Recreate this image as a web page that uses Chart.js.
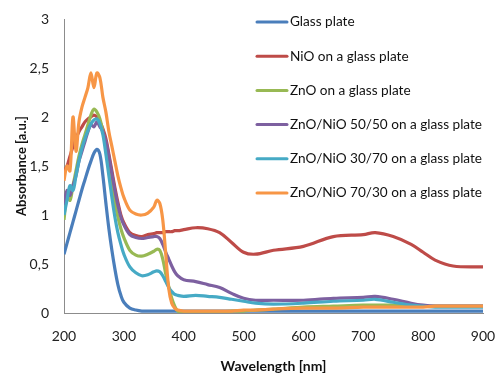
<!DOCTYPE html>
<html>
<head>
<meta charset="utf-8">
<script src="https://cdn.jsdelivr.net/npm/chart.js@4"></script>
<style>
  html, body { margin: 0; padding: 0; background: #fff; }
  #wrap { width: 496px; height: 380px; position: relative; }
</style>
</head>
<body>
<div id="wrap"><canvas id="absChart"></canvas></div>
<script>
// absorbance spectra, values

const wavelength = [200, 205, 210, 215, 220, 225, 230, 235, 240, 245, 250, 255, 260, 265, 270, 275, 280, 285, 290, 295, 300,
    310, 320, 330, 340, 350, 355, 360, 365, 370, 375, 380, 385, 390, 400, 420, 440, 460, 480, 500, 520,
    550, 600, 650, 700, 720, 750, 780, 800, 820, 850, 900];

const seriesLabels = ['Glass plate', 'NiO on a glass plate', 'ZnO on a glass plate',
    'ZnO/NiO 50/50 on a glass plate', 'ZnO/NiO 30/70 on a glass plate', 'ZnO/NiO 70/30 on a glass plate'];

const glassPlate = [0.60, 0.71, 0.82, 0.93, 1.04, 1.15, 1.26, 1.36, 1.46, 1.55, 1.63, 1.67, 1.62, 1.40, 1.12, 0.86, 0.64, 0.45, 0.29, 0.18, 0.11,
    0.05, 0.03, 0.02, 0.02, 0.02, 0.02, 0.02, 0.02, 0.02, 0.02, 0.02, 0.02, 0.02, 0.02, 0.02, 0.02, 0.02, 0.02, 0.02, 0.02,
    0.02, 0.02, 0.02, 0.02, 0.02, 0.02, 0.02, 0.02, 0.02, 0.02, 0.02];

const nio = [1.45, 1.50, 1.60, 1.70, 1.78, 1.85, 1.90, 1.95, 1.98, 2.00, 2.02, 2.00, 1.95, 1.88, 1.78, 1.62, 1.45, 1.28, 1.13, 1.00, 0.92,
    0.82, 0.79, 0.78, 0.80, 0.81, 0.82, 0.82, 0.82, 0.83, 0.83, 0.83, 0.84, 0.84, 0.85, 0.87, 0.86, 0.82, 0.72, 0.62, 0.60,
    0.64, 0.68, 0.78, 0.80, 0.82, 0.78, 0.70, 0.62, 0.54, 0.48, 0.47];

const zno = [0.95, 1.20, 1.15, 1.30, 1.45, 1.60, 1.72, 1.82, 1.92, 2.02, 2.08, 2.05, 1.98, 1.85, 1.70, 1.50, 1.30, 1.12, 0.98, 0.86, 0.77,
    0.64, 0.59, 0.58, 0.60, 0.63, 0.65, 0.64, 0.55, 0.40, 0.27, 0.15, 0.07, 0.02, 0.00, 0.00, 0.01, 0.01, 0.02, 0.02, 0.03,
    0.04, 0.06, 0.07, 0.08, 0.08, 0.08, 0.07, 0.07, 0.07, 0.07, 0.07];

const mix5050 = [1.10, 1.25, 1.20, 1.30, 1.40, 1.55, 1.65, 1.75, 1.85, 1.92, 1.90, 1.95, 1.90, 1.85, 1.75, 1.60, 1.42, 1.25, 1.10, 0.98, 0.90,
    0.80, 0.77, 0.76, 0.77, 0.78, 0.78, 0.76, 0.70, 0.62, 0.55, 0.48, 0.42, 0.38, 0.34, 0.32, 0.29, 0.26, 0.20, 0.15, 0.13,
    0.13, 0.13, 0.15, 0.16, 0.17, 0.14, 0.10, 0.08, 0.07, 0.07, 0.07];

const mix3070 = [1.00, 1.15, 1.30, 1.25, 1.40, 1.55, 1.68, 1.78, 1.86, 1.93, 1.97, 1.98, 1.93, 1.82, 1.62, 1.40, 1.18, 0.98, 0.82, 0.70, 0.60,
    0.47, 0.41, 0.38, 0.39, 0.42, 0.43, 0.42, 0.38, 0.32, 0.26, 0.22, 0.19, 0.18, 0.17, 0.18, 0.17, 0.16, 0.14, 0.12, 0.10,
    0.09, 0.10, 0.12, 0.13, 0.14, 0.11, 0.08, 0.07, 0.06, 0.06, 0.06];

const mix7030 = [1.35, 1.50, 1.45, 2.00, 1.65, 1.95, 2.10, 2.20, 2.30, 2.45, 2.30, 2.45, 2.40, 2.20, 2.05, 1.85, 1.70, 1.55, 1.40, 1.28, 1.18,
    1.05, 1.01, 1.00, 1.02, 1.08, 1.15, 1.12, 0.95, 0.60, 0.25, 0.10, 0.05, 0.03, 0.02, 0.02, 0.02, 0.02, 0.02, 0.03, 0.03,
    0.04, 0.05, 0.05, 0.06, 0.06, 0.06, 0.06, 0.06, 0.07, 0.07, 0.07];

const seriesColors = ['#4A7EBB', '#BE4B48', '#98B954', '#7D60A0', '#46AAC5', '#F79646'];
const allSeries = [glassPlate, nio, zno, mix5050, mix3070, mix7030];

const FONT = 'Lato, "Open Sans", sans-serif';

// legend sits inside the plot, top right
const plotLegend = {
    id: 'plotLegend',
    afterDraw(chart) {
        const ctx = chart.ctx;
        ctx.save();
        ctx.font = '13.6px ' + FONT;
        ctx.textBaseline = 'middle';
        ctx.fillStyle = '#111';
        chart.data.datasets.forEach((ds, i) => {
            const y = 22 + i * 34.2;
            ctx.strokeStyle = ds.borderColor;
            ctx.lineWidth = 3;
            ctx.lineCap = 'round';
            ctx.beginPath();
            ctx.moveTo(257, y);
            ctx.lineTo(287, y);
            ctx.stroke();
            ctx.fillText(ds.label, 290, y);
        });
        ctx.restore();
    }
};

const datasets = allSeries.map((vals, i) => ({
    label: seriesLabels[i],
    data: vals.map((v, j) => ({ x: wavelength[j], y: v })),
    borderColor: seriesColors[i],
    backgroundColor: seriesColors[i],
    borderWidth: 3.2,
    pointRadius: 0,
    tension: 0.35,
    order: allSeries.length - i
}));

new Chart(document.getElementById('absChart'), {
    type: 'line',
    data: { datasets: datasets },
    options: {
        responsive: true,
        maintainAspectRatio: false,
        animation: false,
        layout: { padding: { left: 0, right: 13, top: 19, bottom: 0 } },
        plugins: {
            legend: { display: false },
            tooltip: { enabled: false }
        },
        scales: {
            x: {
                type: 'linear',
                min: 200,
                max: 900,
                grid: { display: false, drawTicks: false },
                border: { display: true, color: '#8c8c8c', width: 1 },
                ticks: { stepSize: 100, padding: 15, color: '#222', font: { family: FONT, size: 14 } },
                title: {
                    display: true,
                    text: 'Wavelength [nm]',
                    color: '#111',
                    font: { family: FONT, size: 14, weight: 'bold' },
                    padding: { top: 0, bottom: 5 }
                },
                afterFit(scale) {
                    scale.height = 67;
                    scale.paddingLeft = 0;
                    scale.paddingRight = 0;
                }
            },
            y: {
                min: 0,
                max: 3,
                grid: { display: false, drawTicks: false },
                border: { display: true, color: '#8c8c8c', width: 1 },
                ticks: {
                    stepSize: 0.5,
                    padding: 15,
                    color: '#222',
                    font: { family: FONT, size: 14 },
                    callback: v => String(v).replace('.', ',')
                },
                title: {
                    display: true,
                    text: 'Absorbance [a.u.]',
                    color: '#111',
                    font: { family: FONT, size: 13, weight: 'bold' },
                    padding: { top: 14, bottom: 0 }
                },
                afterFit(scale) {
                    scale.width = 64;
                    scale.paddingTop = 0;
                    scale.paddingBottom = 0;
                }
            }
        }
    },
    plugins: [plotLegend]
});
</script>
</body>
</html>
